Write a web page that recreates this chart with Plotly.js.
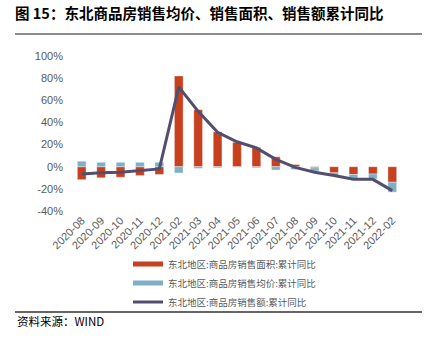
<!DOCTYPE html>
<html>
<head>
<meta charset="utf-8">
<script src="https://cdn.plot.ly/plotly-3.0.1.min.js"></script>
<style>html,body{margin:0;padding:0;background:#fff;}#chart{width:435px;height:348px;}</style>
</head>
<body>
<div id="chart"></div>
<script>
const categories = ["2020-08","2020-09","2020-10","2020-11","2020-12","2021-02","2021-03","2021-04","2021-05","2021-06","2021-07","2021-08","2021-09","2021-10","2021-11","2021-12","2022-02"];
const areaYoY = [-11.7,-10,-9.5,-8,-7,82,51.5,31.5,22,17.5,9,2,-1,-5.5,-7,-6.6,-14];
const priceYoY = [5,4,4,4,4,-5.7,-1.5,-1,-0.5,-1,-3,-2.5,-3,-2.6,-3.5,-4.4,-9];
const salesYoY = [-6.6,-5.4,-5,-3.6,-2,72,50,31,22.5,17,6.6,-0.6,-5,-8,-11.4,-11.4,-21.6];
const yTickVals = [-40,-20,0,20,40,60,80,100];
const yTickText = yTickVals.map(v => v + "%");
const names = ["东北地区:商品房销售面积:累计同比","东北地区:商品房销售均价:累计同比","东北地区:商品房销售额:累计同比"];
const colors = ["#C8411E","#80B0C6","#524E70"];

const narrow = "'Liberation Sans Narrow', 'Arial Narrow', Arial, sans-serif";
const cjk = "'Noto Sans CJK SC', sans-serif";

const traces = [
  {type:"bar", x:categories, y:areaYoY, marker:{color:colors[0], line:{width:0.6, color:"rgba(255,255,255,0.6)"}}, name:names[0], showlegend:false, legendgroup:"a", hoverinfo:"skip"},
  {type:"bar", x:categories, y:priceYoY, marker:{color:colors[1], line:{width:0.6, color:"rgba(255,255,255,0.6)"}}, name:names[1], showlegend:false, legendgroup:"b", hoverinfo:"skip"},
  {type:"scatter", mode:"lines", x:categories, y:salesYoY, line:{color:colors[2], width:3}, name:names[2], showlegend:false, legendgroup:"c"},
  {type:"scatter", mode:"lines", x:[null], y:[null], line:{color:colors[0], width:5}, name:names[0], legendgroup:"a"},
  {type:"scatter", mode:"lines", x:[null], y:[null], line:{color:colors[1], width:5}, name:names[1], legendgroup:"b"},
  {type:"scatter", mode:"lines", x:[null], y:[null], line:{color:colors[2], width:3}, name:names[2], legendgroup:"c"}
];

const L=72, R=402, T=56, B=211, H=B-T, W=R-L;
const px = v => (v-L)/W;
const py = v => (B-v)/H;

const layout = {
  width:435, height:348,
  margin:{l:L, r:435-R, t:T, b:348-B, autoexpand:false},
  paper_bgcolor:"#fff", plot_bgcolor:"#fff",
  barmode:"relative", bargap:0.55,
  title:{text:"<b>图 15：东北商品房销售均价、销售面积、销售额累计同比</b>", xref:"container", yref:"container", x:15/435, xanchor:"left", y:1-14/348, yanchor:"middle", font:{family:cjk, size:14.5, color:"#000"}},
  xaxis:{type:"category", range:[-0.5,16.5], automargin:false, showline:false, ticks:"", showgrid:false, zeroline:false, tickangle:-45, tickfont:{family:narrow, size:11, color:"#595959"}},
  xaxis2:{overlaying:"x", anchor:"free", position:40/140, range:[-0.5,16.5], automargin:false, tickmode:"linear", tick0:-0.5, dtick:1, showticklabels:false, ticks:"outside", ticklen:3, tickcolor:"#d0d0d0", showline:true, linecolor:"#d0d0d0", linewidth:1.5, showgrid:false, zeroline:false},
  yaxis:{range:[-40,100], automargin:false, tickmode:"array", tickvals:yTickVals, ticktext:yTickText, showgrid:false, zeroline:false, showline:false, ticks:"", ticklabelstandoff:8, tickfont:{family:narrow, size:11, color:"#595959"}},
  legend:{xref:"container", yref:"container", x:128/435, xanchor:"left", y:1-283/348, yanchor:"middle", font:{family:cjk, size:9.5, color:"#595959"}, itemwidth:30, bgcolor:"rgba(0,0,0,0)", traceorder:"normal"},
  shapes:[
    {type:"line", xref:"paper", yref:"paper", x0:px(15), x1:px(422), y0:py(34), y1:py(34), line:{color:"#8c8c8c", width:2}},
    {type:"line", xref:"paper", yref:"paper", x0:px(15), x1:px(422), y0:py(312), y1:py(312), line:{color:"#333", width:1.5}}
  ],
  annotations:[
    {text:"资料来源：WIND", xref:"paper", yref:"paper", x:px(15), xanchor:"left", y:py(321), yanchor:"middle", showarrow:false, font:{family:cjk, size:11.5, color:"#000"}}
  ]
};
Plotly.newPlot("chart", traces, layout, {staticPlot:true, displayModeBar:false});
</script>
</body>
</html>
